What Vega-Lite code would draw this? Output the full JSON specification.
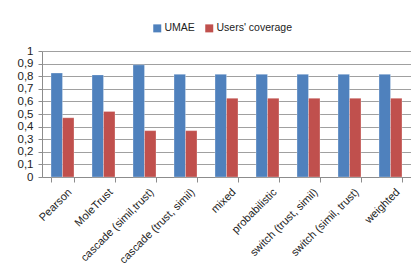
{
  "$schema": "https://vega.github.io/schema/vega-lite/v6.json",
  "width": 369,
  "height": 126,
  "autosize": {"type": "none"},
  "padding": {"left": 42, "top": 51, "right": 0, "bottom": 89},
  "background": "white",
  "config": {
    "font": "Liberation Sans",
    "view": {"stroke": null},
    "axis": {"labelColor": "#222222", "labelFont": "Liberation Sans", "labelFontSize": 11.5, "domainColor": "#8c8c8c", "tickColor": "#8c8c8c", "gridColor": "#a0a0a0"}
  },
  "data": {
    "values": [
      {"method": "Pearson", "series": "UMAE", "value": 0.825},
      {"method": "Pearson", "series": "Users' coverage", "value": 0.47},
      {"method": "MoleTrust", "series": "UMAE", "value": 0.81},
      {"method": "MoleTrust", "series": "Users' coverage", "value": 0.52},
      {"method": "cascade (simil,trust)", "series": "UMAE", "value": 0.89},
      {"method": "cascade (simil,trust)", "series": "Users' coverage", "value": 0.368},
      {"method": "cascade (trust, simil)", "series": "UMAE", "value": 0.815},
      {"method": "cascade (trust, simil)", "series": "Users' coverage", "value": 0.368},
      {"method": "mixed", "series": "UMAE", "value": 0.815},
      {"method": "mixed", "series": "Users' coverage", "value": 0.625},
      {"method": "probabilistic", "series": "UMAE", "value": 0.815},
      {"method": "probabilistic", "series": "Users' coverage", "value": 0.625},
      {"method": "switch (trust, simil)", "series": "UMAE", "value": 0.815},
      {"method": "switch (trust, simil)", "series": "Users' coverage", "value": 0.625},
      {"method": "switch (simil, trust)", "series": "UMAE", "value": 0.815},
      {"method": "switch (simil, trust)", "series": "Users' coverage", "value": 0.625},
      {"method": "weighted", "series": "UMAE", "value": 0.815},
      {"method": "weighted", "series": "Users' coverage", "value": 0.625}
    ]
  },
  "mark": {"type": "bar", "stroke": "#ffffff", "strokeOpacity": 0.35, "strokeWidth": 0.8},
  "encoding": {
    "x": {
      "field": "method", "type": "nominal", "sort": null, "title": null,
      "scale": {"paddingInner": 0.44, "paddingOuter": 0.22},
      "axis": {"labelAngle": -45, "tickBand": "extent", "tickSize": 5, "labelFontSize": 11, "labelPadding": 4, "labelOffset": 3, "grid": false}
    },
    "xOffset": {"field": "series", "type": "nominal", "sort": null},
    "y": {
      "field": "value", "type": "quantitative", "title": null,
      "scale": {"domain": [0, 1], "nice": false},
      "axis": {"values": [0, 0.1, 0.2, 0.3, 0.4, 0.5, 0.6, 0.7, 0.8, 0.9, 1], "labelExpr": "replace(format(datum.value, '.1~f'), '.', ',')", "tickSize": 4, "labelPadding": 5}
    },
    "color": {
      "field": "series", "type": "nominal", "sort": null,
      "scale": {"domain": ["UMAE", "Users' coverage"], "range": ["#4F81BD", "#C0504D"]},
      "legend": {"title": null, "orient": "none", "legendX": 110, "legendY": -28, "direction": "horizontal", "symbolType": "square", "symbolSize": 64, "symbolOpacity": 1, "labelFontSize": 10.5, "labelColor": "#222222", "columnPadding": 9, "labelOffset": 2, "symbolStrokeWidth": 0}
    }
  }
}
